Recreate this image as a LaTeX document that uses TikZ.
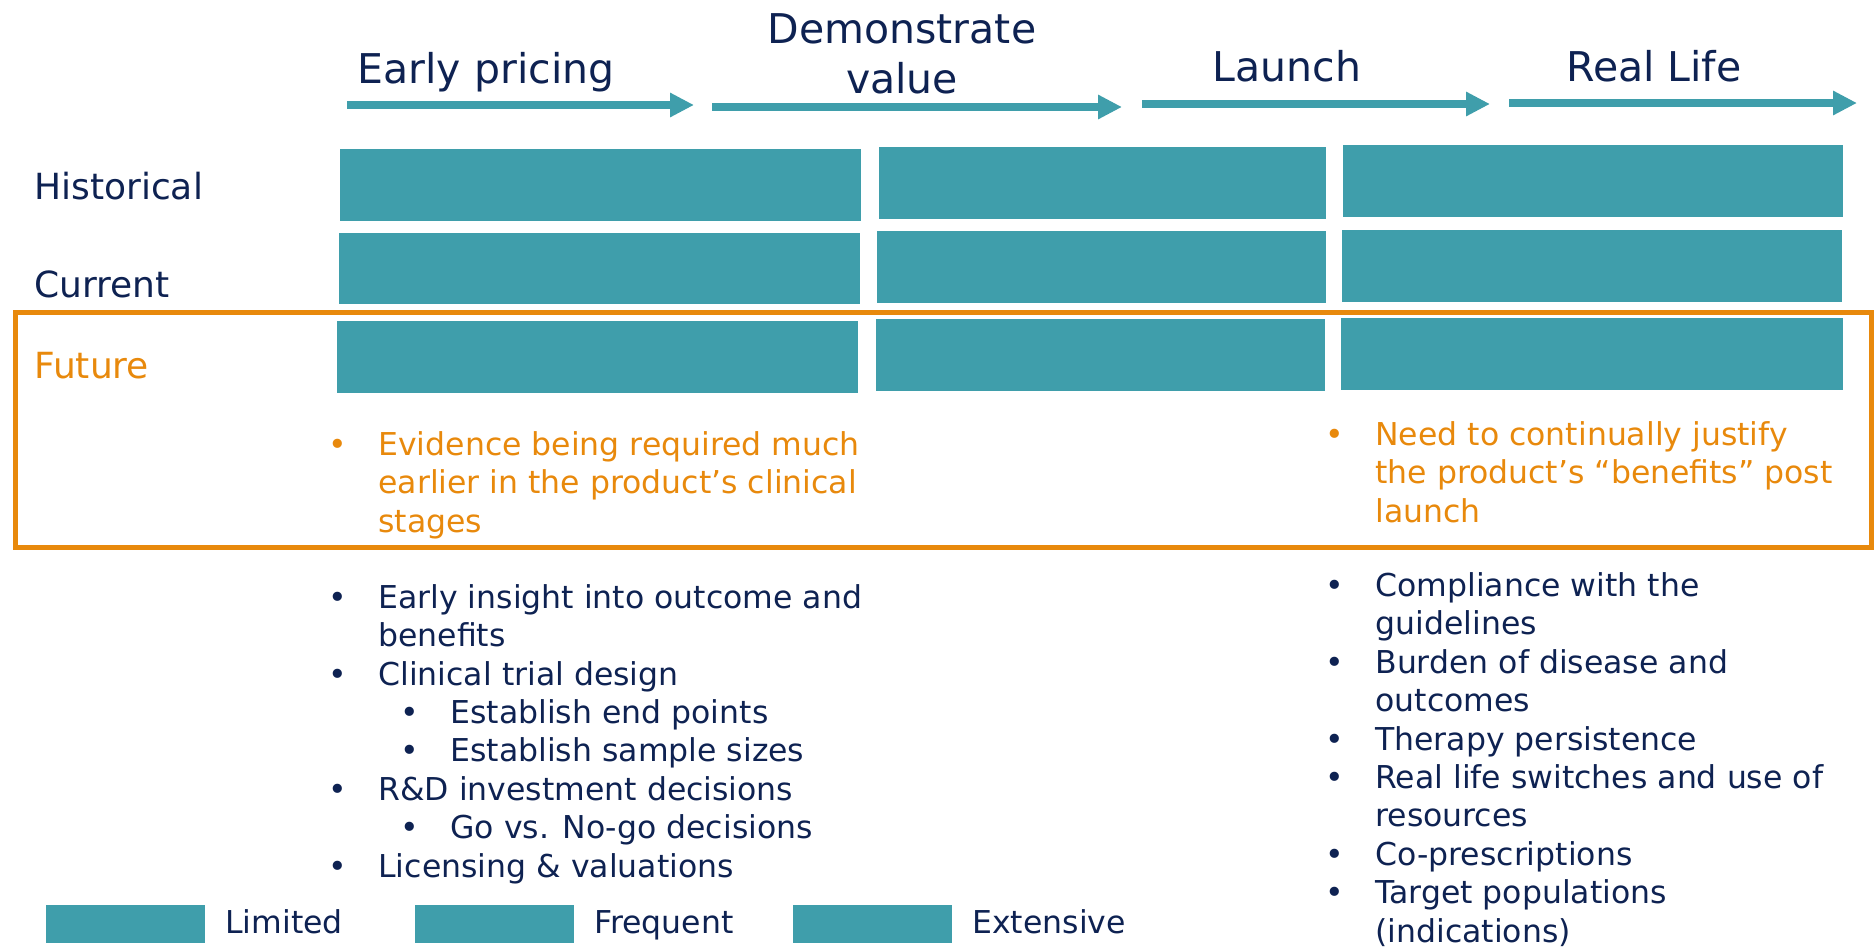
\documentclass[tikz,border=0pt]{standalone}
\usepackage{fontspec}
\setmainfont{DejaVu Sans}
\usetikzlibrary{arrows.meta}

\definecolor{phaseteal}{HTML}{3F9EAB}
\definecolor{inknavy}{HTML}{0E2252}
\definecolor{futorange}{HTML}{E8890C}

\newcommand{\itm}{\makebox[25pt][l]{\textbullet}}
\newcommand{\cnt}{\hspace*{25pt}}
\newcommand{\subitm}{\hspace*{36pt}\itm}

\begin{document}
\begin{tikzpicture}[x=0.5pt, y=-0.5pt,
    bar/.style={fill=phaseteal},
    phase/.style={-{Triangle[width=11.5pt,length=12pt]}, line width=4pt, phaseteal},
    head/.style={anchor=base, inner sep=0, align=center, text=inknavy,
        font=\fontsize{20.5}{25}\selectfont},
    row/.style={anchor=base west, inner sep=0, font=\fontsize{18}{22}\selectfont},
    list/.style={anchor=base west, inner sep=0, align=left,
        font=\fontsize{15.75}{19.2}\selectfont}]
    \useasboundingbox (0,0) rectangle (1876,948);

    % phases along the top (multi-line nodes sit on their last line)
    \node[head] (early) at (486,83) {Early pricing};
    \node[head] (demo) at (902,93) {Demonstrate\\value};
    \node[head] (launch) at (1287,81) {Launch};
    \node[head] (real) at (1654,81) {Real Life};

    \foreach \a/\b/\h in {347/694/105, 712/1122/107, 1142/1490/104, 1509/1857/103}
        \draw[phase] (\a,\h) -- (\b,\h);

    % rows
    \node[row, text=inknavy] (hist) at (34,199) {Historical};
    \node[row, text=inknavy] (curr) at (34,297) {Current};
    \node[row, text=futorange] (fut) at (34,378) {Future};

    \foreach \xa/\ya/\xb/\yb in {340/149/861/221, 879/147/1326/219, 1343/145/1843/217,
                                 339/233/860/304, 877/231/1326/303, 1342/230/1842/302,
                                 337/321/858/393, 876/319/1325/391, 1341/318/1843/390}
        \fill[bar] (\xa,\ya) rectangle (\xb,\yb);

    \draw[futorange, line width=2.5pt] (15,312) rectangle (1871,547);

    % future notes
    \node[list, text=futorange] (evidence) at (328,532)
        {\itm Evidence being required much\\\cnt earlier in the product's clinical\\\cnt stages};
    \node[list, text=futorange] (justify) at (1325,522)
        {\itm Need to continually justify\\\cnt the product's “benefits” post\\\cnt launch};

    % uses
    \node[list, text=inknavy] (earlyuses) at (328,877)
        {\itm Early insight into outcome and\\\cnt benefits\\
         \itm Clinical trial design\\
         \subitm Establish end points\\
         \subitm Establish sample sizes\\
         \itm R\&D investment decisions\\
         \subitm Go vs. No-go decisions\\
         \itm Licensing \& valuations};
    \node[list, text=inknavy] (realuses) at (1325,942)
        {\itm Compliance with the\\\cnt guidelines\\
         \itm Burden of disease and\\\cnt outcomes\\
         \itm Therapy persistence\\
         \itm Real life switches and use of\\\cnt resources\\
         \itm Co-prescriptions\\
         \itm Target populations\\\cnt (indications)};

    % key
    \foreach \x/\t in {46/Limited, 415/Frequent, 793/Extensive} {
        \fill[bar] (\x,905) rectangle ++(159,38);
        \node[list, text=inknavy] (key-\t) at (\x+179,933) {\t};
    }
\end{tikzpicture}
\end{document}
